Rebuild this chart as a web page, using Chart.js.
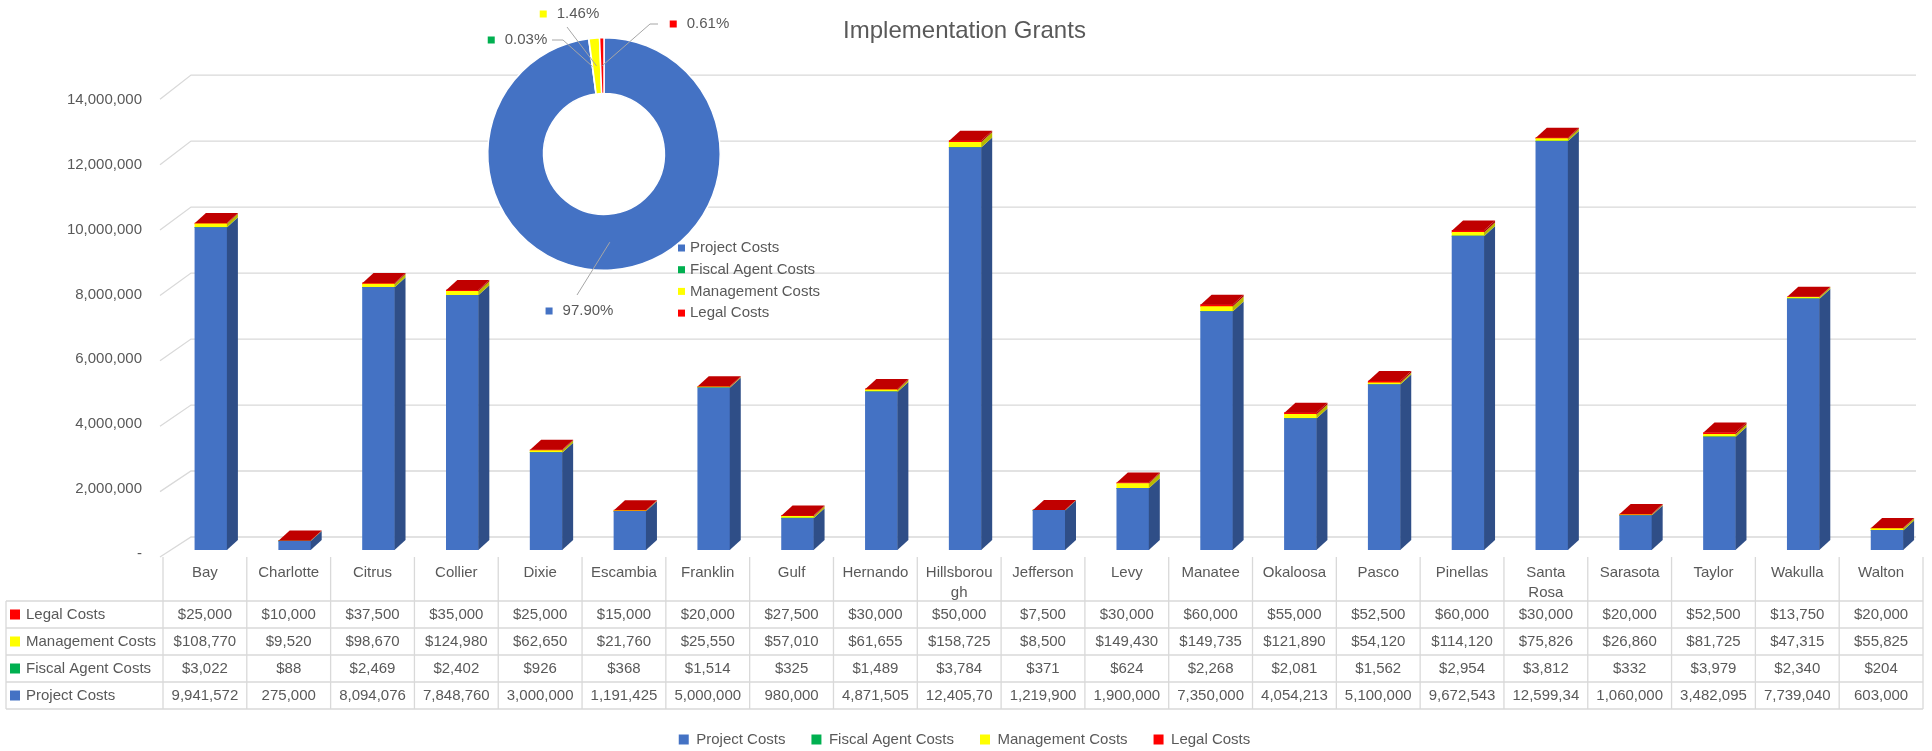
<!DOCTYPE html>
<html>
<head>
<meta charset="utf-8">
<script src="https://cdn.jsdelivr.net/npm/chart.js@4.4.1/dist/chart.umd.min.js"></script>
<style>
  html, body { margin: 0; padding: 0; background: #fff; }
  #wrap { position: relative; width: 1932px; height: 751px; }
  #mainChart { position: absolute; left: 0; top: 0; }
  #donutChart { position: absolute; left: 430px; top: 0; }
</style>
</head>
<body>
<div id="wrap">
  <canvas id="mainChart" width="1932" height="751"></canvas>
  <canvas id="donutChart" width="460" height="330"></canvas>
</div>
<script>
const counties = ['Bay', 'Charlotte', 'Citrus', 'Collier', 'Dixie', 'Escambia', 'Franklin', 'Gulf', 'Hernando',
    'Hillsborough', 'Jefferson', 'Levy', 'Manatee', 'Okaloosa', 'Pasco', 'Pinellas', 'Santa Rosa', 'Sarasota',
    'Taylor', 'Wakulla', 'Walton'];

const projectCosts = [9941572, 275000, 8094076, 7848760, 3000000, 1191425, 5000000, 980000, 4871505,
    12405700, 1219900, 1900000, 7350000, 4054213, 5100000, 9672543, 12599340, 1060000, 3482095, 7739040, 603000];
const fiscalAgentCosts = [3022, 88, 2469, 2402, 926, 368, 1514, 325, 1489, 3784, 371, 624, 2268, 2081, 1562,
    2954, 3812, 332, 3979, 2340, 204];
const managementCosts = [108770, 9520, 98670, 124980, 62650, 21760, 25550, 57010, 61655, 158725, 8500, 149430,
    149735, 121890, 54120, 114120, 75826, 26860, 81725, 47315, 55825];
const legalCosts = [25000, 10000, 37500, 35000, 25000, 15000, 20000, 27500, 30000, 50000, 7500, 30000, 60000,
    55000, 52500, 60000, 30000, 20000, 52500, 13750, 20000];

const seriesNames = ['Project Costs', 'Fiscal Agent Costs', 'Management Costs', 'Legal Costs'];
const yTickValues = [0, 2000000, 4000000, 6000000, 8000000, 10000000, 12000000, 14000000];

const seriesData = [projectCosts, fiscalAgentCosts, managementCosts, legalCosts];
const seriesColors = ['#4472C4', '#00B050', '#FFFF00', '#FF0000'];
const sideColors = ['#2F4E87', '#007A38', '#B8B800', '#B00000'];
const topColor = '#C00000';
const textColor = '#595959';
const gridColor = '#d9d9d9';
const fontFamily = '"Liberation Sans", Arial, sans-serif';

Chart.defaults.font.family = fontFamily;
Chart.defaults.font.size = 15;
Chart.defaults.color = textColor;

const fmt = v => v.toLocaleString('en-US');
const depthX = 11, depthY = 10;

// fake 3d: back-wall gridlines and bar sides / tops
const threeD = {
    id: 'threeD',
    beforeDatasetsDraw(chart) {
        const ctx = chart.ctx;
        const ys = chart.scales.y;
        const area = chart.chartArea;
        ctx.save();
        ctx.strokeStyle = gridColor;
        ctx.lineWidth = 1.3;
        ys.ticks.forEach(t => {
            const yb = ys.getPixelForValue(t.value);
            const m = t.value / 1000000;
            const backY = yb - 13 - 0.55 * m;
            const frontY = yb + 7 - 0.25 * m;
            ctx.beginPath();
            ctx.moveTo(area.left - 9, frontY);
            ctx.lineTo(area.left + 22, backY);
            ctx.lineTo(area.right - 13, backY);
            ctx.stroke();
        });
        ctx.restore();
    },
    afterDatasetsDraw(chart) {
        const ctx = chart.ctx;
        const last = chart.data.datasets.length - 1;
        ctx.save();
        chart.data.datasets.forEach((ds, i) => {
            chart.getDatasetMeta(i).data.forEach(bar => {
                const l = bar.x - bar.width / 2;
                const r = bar.x + bar.width / 2;
                ctx.fillStyle = sideColors[i];
                ctx.beginPath();
                ctx.moveTo(r, bar.base);
                ctx.lineTo(r, bar.y);
                ctx.lineTo(r + depthX, bar.y - depthY);
                ctx.lineTo(r + depthX, bar.base - depthY);
                ctx.closePath();
                ctx.fill();
                if (i === last) {
                    ctx.fillStyle = topColor;
                    ctx.beginPath();
                    ctx.moveTo(l, bar.y);
                    ctx.lineTo(l + depthX, bar.y - depthY);
                    ctx.lineTo(r + depthX, bar.y - depthY);
                    ctx.lineTo(r, bar.y);
                    ctx.closePath();
                    ctx.fill();
                }
            });
        });
        ctx.restore();
    }
};

function wrapLabel(ctx, text, maxW) {
    if (ctx.measureText(text).width <= maxW) return [text];
    const words = text.split(' ');
    if (words.length > 1) return words;
    let cut = text.length;
    while (cut > 1 && ctx.measureText(text.slice(0, cut)).width > maxW) cut--;
    return [text.slice(0, cut), text.slice(cut)];
}

function fitText(ctx, text, maxW) {
    let t = text;
    while (t.length > 1 && ctx.measureText(t).width > maxW) t = t.slice(0, -1);
    return t;
}

// data table under the plot
const dataTable = {
    id: 'dataTable',
    afterDraw(chart) {
        const ctx = chart.ctx;
        const xs = chart.scales.x;
        const ys = chart.scales.y;
        const n = counties.length;
        const colW = (xs.right - xs.left) / n;
        const x0 = xs.getPixelForValue(0) - 6 - colW / 2;
        const xEnd = x0 + colW * n;
        const headTop = ys.getPixelForValue(0) + 7;
        const rowTop = headTop + 44;
        const rowH = 27;
        const rowOrder = [3, 2, 1, 0];

        ctx.save();
        ctx.strokeStyle = gridColor;
        ctx.lineWidth = 1.3;
        ctx.beginPath();
        for (let r = 0; r <= rowOrder.length; r++) {
            ctx.moveTo(6, rowTop + r * rowH);
            ctx.lineTo(xEnd, rowTop + r * rowH);
        }
        ctx.moveTo(6, rowTop);
        ctx.lineTo(6, rowTop + rowOrder.length * rowH);
        for (let c = 0; c <= n; c++) {
            ctx.moveTo(x0 + c * colW, headTop);
            ctx.lineTo(x0 + c * colW, rowTop + rowOrder.length * rowH);
        }
        ctx.stroke();

        ctx.font = '15px ' + fontFamily;
        ctx.fillStyle = textColor;
        ctx.textAlign = 'center';
        ctx.textBaseline = 'middle';
        counties.forEach((name, c) => {
            const cx = x0 + c * colW + colW / 2;
            wrapLabel(ctx, name, colW - 12).forEach((t, k) => ctx.fillText(t, cx, headTop + 16 + k * 20));
        });

        rowOrder.forEach((si, r) => {
            const cy = rowTop + r * rowH + rowH / 2;
            ctx.fillStyle = seriesColors[si];
            ctx.fillRect(10, cy - 5, 10, 10);
            ctx.fillStyle = textColor;
            ctx.textAlign = 'left';
            ctx.fillText(seriesNames[si], 26, cy);
            ctx.textAlign = 'center';
            seriesData[si].forEach((v, c) => {
                const txt = (si === 0 ? '' : '$') + fmt(v);
                ctx.fillText(fitText(ctx, txt, colW - 10), x0 + c * colW + colW / 2, cy);
            });
        });
        ctx.restore();
    }
};

new Chart(document.getElementById('mainChart'), {
    type: 'bar',
    data: {
        labels: counties,
        datasets: seriesData.map((d, i) => ({
            label: seriesNames[i],
            data: d,
            backgroundColor: seriesColors[i],
            barThickness: 32
        }))
    },
    options: {
        responsive: false,
        animation: false,
        events: [],
        layout: { padding: { left: 0, right: 3, top: 0, bottom: -6 } },
        plugins: {
            title: {
                display: true,
                text: 'Implementation Grants',
                color: textColor,
                font: { size: 24, weight: 'normal' },
                padding: { top: 17, bottom: 50 }
            },
            legend: {
                position: 'bottom',
                labels: { boxWidth: 10, boxHeight: 10, padding: 26, color: textColor }
            },
            tooltip: { enabled: false }
        },
        scales: {
            x: {
                stacked: true,
                grid: { display: false },
                border: { display: false },
                ticks: { display: false },
                afterFit: s => { s.height = 156; }
            },
            y: {
                stacked: true,
                min: 0,
                max: 14000000,
                afterBuildTicks: s => { s.ticks = yTickValues.map(v => ({ value: v })); },
                grid: { display: false, drawTicks: false },
                border: { display: false },
                ticks: {
                    padding: 27,
                    labelOffset: 4,
                    color: textColor,
                    callback: v => v === 0 ? '-' : fmt(v)
                },
                afterFit: s => { s.width = 169; }
            }
        }
    },
    plugins: [threeD, dataTable]
});

// share of each cost type, shown in the inset doughnut
const totals = seriesData.map(d => d.reduce((a, b) => a + b, 0));
const grandTotal = totals.reduce((a, b) => a + b, 0);

// label boxes relative to the doughnut centre: text centre, then leader points
const donutLabelPos = [
    { tx: -16, ty: 157, lead: [[-27, 141]] },
    { tx: -78, ty: -114, lead: [[-52, -114], [-41, -114]] },
    { tx: -26, ty: -140, lead: [[-37, -127]] },
    { tx: 104, ty: -130, lead: [[54, -130], [46, -130]] }
];

const donutExtras = {
    id: 'donutExtras',
    beforeDatasetsDraw(chart) {
        const arc = chart.getDatasetMeta(0).data[0];
        const ctx = chart.ctx;
        ctx.save();
        ctx.fillStyle = '#fff';
        ctx.beginPath();
        ctx.arc(arc.x, arc.y, arc.outerRadius, 0, Math.PI * 2);
        ctx.fill();
        ctx.restore();
    },
    afterDraw(chart) {
        const ctx = chart.ctx;
        const arcs = chart.getDatasetMeta(0).data;
        const cx = arcs[0].x, cy = arcs[0].y;
        ctx.save();
        ctx.font = '15px ' + fontFamily;
        ctx.textBaseline = 'middle';
        arcs.forEach((arc, i) => {
            const a = (arc.startAngle + arc.endAngle) / 2;
            const rm = (arc.innerRadius + arc.outerRadius) / 2;
            const p = donutLabelPos[i];
            ctx.strokeStyle = '#a6a6a6';
            ctx.lineWidth = 1;
            ctx.beginPath();
            ctx.moveTo(cx + Math.cos(a) * rm, cy + Math.sin(a) * rm);
            p.lead.slice().reverse().forEach(pt => ctx.lineTo(cx + pt[0], cy + pt[1]));
            ctx.stroke();
            const txt = (totals[i] / grandTotal * 100).toFixed(2) + '%';
            const w = ctx.measureText(txt).width;
            const left = cx + p.tx - w / 2;
            ctx.fillStyle = seriesColors[i];
            ctx.fillRect(left - 17, cy + p.ty - 3.5, 7, 7);
            ctx.fillStyle = textColor;
            ctx.textAlign = 'left';
            ctx.fillText(txt, left, cy + p.ty);
        });
        seriesNames.forEach((name, i) => {
            const y = cy + 94 + i * 21.7;
            ctx.fillStyle = seriesColors[i];
            ctx.fillRect(cx + 74, y - 3.5, 7, 7);
            ctx.fillStyle = textColor;
            ctx.textAlign = 'left';
            ctx.fillText(name, cx + 86, y);
        });
        ctx.restore();
    }
};

new Chart(document.getElementById('donutChart'), {
    type: 'doughnut',
    data: {
        labels: seriesNames,
        datasets: [{
            data: totals,
            backgroundColor: seriesColors,
            borderColor: '#fff',
            borderWidth: 1.5
        }]
    },
    options: {
        responsive: false,
        animation: false,
        events: [],
        cutout: '52%',
        layout: { padding: { left: 57, top: 37, right: 169, bottom: 59 } },
        plugins: {
            legend: { display: false },
            tooltip: { enabled: false }
        }
    },
    plugins: [donutExtras]
});
</script>
</body>
</html>
